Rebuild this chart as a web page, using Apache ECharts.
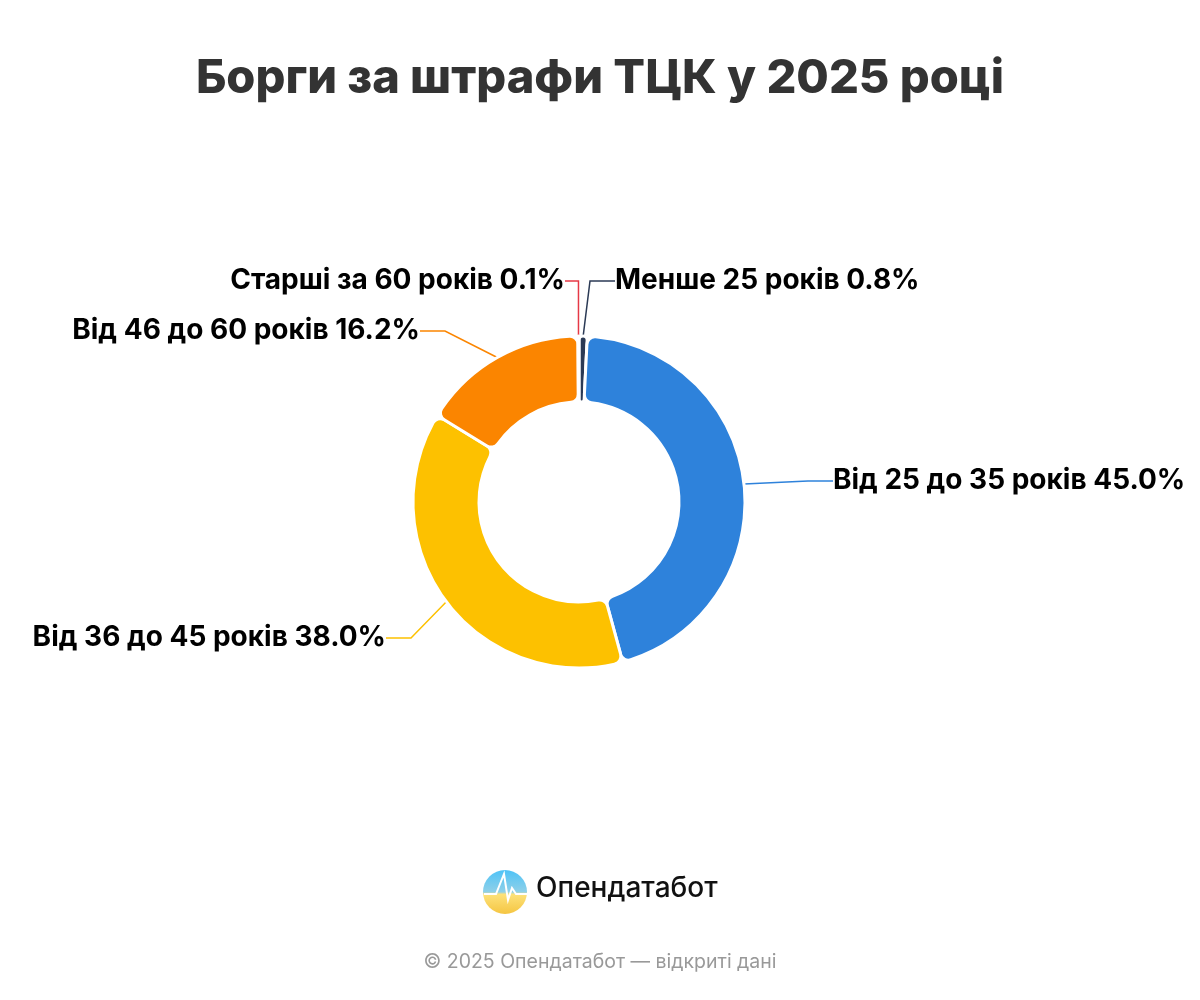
<!DOCTYPE html>
<html>
<head>
<meta charset="utf-8">
<script src="https://cdn.jsdelivr.net/npm/echarts@6/dist/echarts.min.js"></script>
<style>
  html, body { margin: 0; background: #fff; }
  #chart { width: 1200px; height: 1000px; }
</style>
</head>
<body>
<div id="chart"></div>
<script>
// дані
const categories = ["Менше 25 років", "Від 25 до 35 років", "Від 36 до 45 років", "Від 46 до 60 років", "Старші за 60 років"];
const shares = [0.8, 45.0, 38.0, 16.2, 0.1];
const colors = ["#2b3a55", "#2e82db", "#fdc100", "#fb8500", "#e63946"];

const chart = echarts.init(document.getElementById("chart"));
const font = "Inter, 'Noto Sans', sans-serif";

chart.setOption({
  title: {
    text: "Борги за штрафи ТЦК у 2025 році",
    left: "center", top: 50,
    textStyle: { fontFamily: font, fontSize: 47, fontWeight: 800, color: "#333" }
  },
  graphic: [
    { type: "circle", shape: { cx: 505, cy: 892, r: 22 },
      style: { fill: new echarts.graphic.LinearGradient(0, 0, 0, 1, [
        { offset: 0, color: "#4fc3f7" }, { offset: 0.5, color: "#8fd0e8" }, { offset: 0.55, color: "#fde27a" }, { offset: 1, color: "#f5c542" }]) } },
    { type: "polyline", shape: { points: [[484, 894], [496, 894], [500, 884], [504, 874], [508, 900], [512, 888], [516, 894], [527, 894]] },
      style: { stroke: "#ffffff", lineWidth: 2, fill: null } },
    { type: "text", left: 536, top: 875, style: { text: "Опендатабот", font: "500 28px " + font, fill: "#111" } },
    { type: "text", left: "center", top: 952, style: { text: "© 2025 Опендатабот — відкриті дані", font: "19.5px " + font, fill: "#999" } }
  ],
  series: [{
    type: "pie",
    center: [579, 502],
    radius: [100, 166],
    startAngle: 90,
    clockwise: true,
    avoidLabelOverlap: true,
    itemStyle: { borderColor: "#fff", borderWidth: 3, borderRadius: 8 },
    label: {
      formatter: p => p.name + " " + p.value.toFixed(1) + "%",
      fontFamily: font, fontSize: 28, fontWeight: 700, color: "#000"
    },
    labelLine: { length: 55, length2: 25, lineStyle: { width: 1.5 } },
    labelLayout: function (p) {
      const i = p.dataIndex;
      if (i === 0) return { x: 615, y: 281, align: "left", verticalAlign: "middle" };
      if (i === 4) return { x: 565, y: 281, align: "right", verticalAlign: "middle" };
      if (i === 3) return { x: 420, y: 331, align: "right", verticalAlign: "middle" };
      if (i === 1) return { x: 833, y: 481, align: "left", verticalAlign: "middle" };
      if (i === 2) return { x: 386, y: 638, align: "right", verticalAlign: "middle" };
      return {};
    },
    data: categories.map((c, i) => ({ name: c, value: shares[i], itemStyle: { color: colors[i] } }))
  }]
});
</script>
</body>
</html>
